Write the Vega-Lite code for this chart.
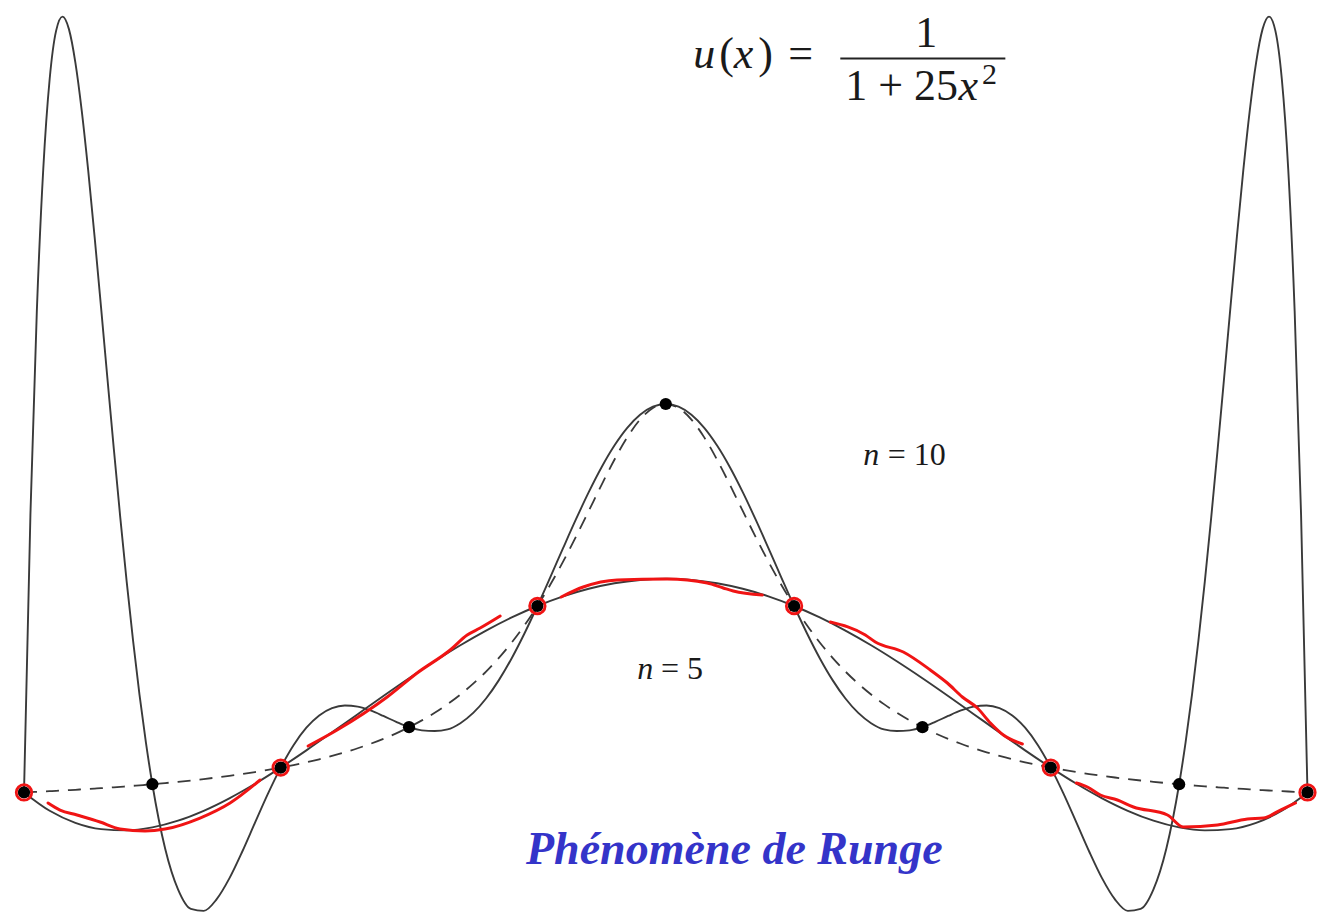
{
  "$schema": "https://vega.github.io/schema/vega-lite/v6.json",
  "width": 1332,
  "height": 913,
  "padding": 0,
  "autosize": {"type": "none"},
  "background": "white",
  "config": {"view": {"stroke": null}},
  "datasets": {
    "curves": [
      {"x": -1.00, "u": 0.0385, "p10": 0.0385},
      {"x": -0.99, "u": 0.0392, "p10": 0.7261},
      {"x": -0.98, "u": 0.0400, "p10": 1.2303},
      {"x": -0.97, "u": 0.0408, "p10": 1.5810},
      {"x": -0.96, "u": 0.0416, "p10": 1.8044},
      {"x": -0.95, "u": 0.0424, "p10": 1.9236},
      {"x": -0.94, "u": 0.0433, "p10": 1.9589},
      {"x": -0.93, "u": 0.0442, "p10": 1.9279},
      {"x": -0.92, "u": 0.0451, "p10": 1.8458},
      {"x": -0.91, "u": 0.0461, "p10": 1.7257},
      {"x": -0.90, "u": 0.0471, "p10": 1.5787},
      {"x": -0.89, "u": 0.0481, "p10": 1.4143},
      {"x": -0.88, "u": 0.0491, "p10": 1.2402},
      {"x": -0.87, "u": 0.0502, "p10": 1.0631},
      {"x": -0.86, "u": 0.0513, "p10": 0.8881},
      {"x": -0.85, "u": 0.0525, "p10": 0.7195},
      {"x": -0.84, "u": 0.0536, "p10": 0.5604},
      {"x": -0.83, "u": 0.0549, "p10": 0.4135},
      {"x": -0.82, "u": 0.0561, "p10": 0.2802},
      {"x": -0.81, "u": 0.0575, "p10": 0.1618},
      {"x": -0.80, "u": 0.0588, "p10": 0.0588},
      {"x": -0.78, "u": 0.0617, "p10": -0.1007},
      {"x": -0.76, "u": 0.0648, "p10": -0.2013},
      {"x": -0.74, "u": 0.0681, "p10": -0.2496},
      {"x": -0.72, "u": 0.0716, "p10": -0.2546},
      {"x": -0.70, "u": 0.0755, "p10": -0.2262},
      {"x": -0.68, "u": 0.0796, "p10": -0.1743},
      {"x": -0.66, "u": 0.0841, "p10": -0.1083},
      {"x": -0.64, "u": 0.0890, "p10": -0.0363},
      {"x": -0.62, "u": 0.0943, "p10": 0.0349},
      {"x": -0.60, "u": 0.1000, "p10": 0.1000},
      {"x": -0.58, "u": 0.1063, "p10": 0.1554},
      {"x": -0.56, "u": 0.1131, "p10": 0.1987},
      {"x": -0.54, "u": 0.1206, "p10": 0.2292},
      {"x": -0.52, "u": 0.1289, "p10": 0.2472},
      {"x": -0.50, "u": 0.1379, "p10": 0.2538},
      {"x": -0.48, "u": 0.1479, "p10": 0.2510},
      {"x": -0.46, "u": 0.1590, "p10": 0.2414},
      {"x": -0.44, "u": 0.1712, "p10": 0.2278},
      {"x": -0.42, "u": 0.1848, "p10": 0.2131},
      {"x": -0.40, "u": 0.2000, "p10": 0.2000},
      {"x": -0.38, "u": 0.2169, "p10": 0.1922},
      {"x": -0.36, "u": 0.2358, "p10": 0.1906},
      {"x": -0.34, "u": 0.2571, "p10": 0.1946},
      {"x": -0.32, "u": 0.2809, "p10": 0.2099},
      {"x": -0.30, "u": 0.3077, "p10": 0.2353},
      {"x": -0.28, "u": 0.3378, "p10": 0.2710},
      {"x": -0.26, "u": 0.3717, "p10": 0.3165},
      {"x": -0.24, "u": 0.4098, "p10": 0.3708},
      {"x": -0.22, "u": 0.4525, "p10": 0.4326},
      {"x": -0.20, "u": 0.5000, "p10": 0.5000},
      {"x": -0.18, "u": 0.5525, "p10": 0.5710},
      {"x": -0.16, "u": 0.6098, "p10": 0.6432},
      {"x": -0.14, "u": 0.6711, "p10": 0.7142},
      {"x": -0.12, "u": 0.7353, "p10": 0.7817},
      {"x": -0.10, "u": 0.8000, "p10": 0.8434},
      {"x": -0.08, "u": 0.8621, "p10": 0.8971},
      {"x": -0.06, "u": 0.9174, "p10": 0.9409},
      {"x": -0.04, "u": 0.9615, "p10": 0.9733},
      {"x": -0.02, "u": 0.9901, "p10": 0.9933},
      {"x": 0.00, "u": 1.0000, "p10": 1.0000},
      {"x": 0.02, "u": 0.9901, "p10": 0.9933},
      {"x": 0.04, "u": 0.9615, "p10": 0.9733},
      {"x": 0.06, "u": 0.9174, "p10": 0.9409},
      {"x": 0.08, "u": 0.8621, "p10": 0.8971},
      {"x": 0.10, "u": 0.8000, "p10": 0.8434},
      {"x": 0.12, "u": 0.7353, "p10": 0.7817},
      {"x": 0.14, "u": 0.6711, "p10": 0.7142},
      {"x": 0.16, "u": 0.6098, "p10": 0.6432},
      {"x": 0.18, "u": 0.5525, "p10": 0.5710},
      {"x": 0.20, "u": 0.5000, "p10": 0.5000},
      {"x": 0.22, "u": 0.4525, "p10": 0.4326},
      {"x": 0.24, "u": 0.4098, "p10": 0.3708},
      {"x": 0.26, "u": 0.3717, "p10": 0.3165},
      {"x": 0.28, "u": 0.3378, "p10": 0.2710},
      {"x": 0.30, "u": 0.3077, "p10": 0.2353},
      {"x": 0.32, "u": 0.2809, "p10": 0.2099},
      {"x": 0.34, "u": 0.2571, "p10": 0.1946},
      {"x": 0.36, "u": 0.2358, "p10": 0.1906},
      {"x": 0.38, "u": 0.2169, "p10": 0.1922},
      {"x": 0.40, "u": 0.2000, "p10": 0.2000},
      {"x": 0.42, "u": 0.1848, "p10": 0.2131},
      {"x": 0.44, "u": 0.1712, "p10": 0.2278},
      {"x": 0.46, "u": 0.1590, "p10": 0.2414},
      {"x": 0.48, "u": 0.1479, "p10": 0.2510},
      {"x": 0.50, "u": 0.1379, "p10": 0.2538},
      {"x": 0.52, "u": 0.1289, "p10": 0.2472},
      {"x": 0.54, "u": 0.1206, "p10": 0.2292},
      {"x": 0.56, "u": 0.1131, "p10": 0.1987},
      {"x": 0.58, "u": 0.1063, "p10": 0.1554},
      {"x": 0.60, "u": 0.1000, "p10": 0.1000},
      {"x": 0.62, "u": 0.0943, "p10": 0.0349},
      {"x": 0.64, "u": 0.0890, "p10": -0.0363},
      {"x": 0.66, "u": 0.0841, "p10": -0.1083},
      {"x": 0.68, "u": 0.0796, "p10": -0.1743},
      {"x": 0.70, "u": 0.0755, "p10": -0.2262},
      {"x": 0.72, "u": 0.0716, "p10": -0.2546},
      {"x": 0.74, "u": 0.0681, "p10": -0.2496},
      {"x": 0.76, "u": 0.0648, "p10": -0.2013},
      {"x": 0.78, "u": 0.0617, "p10": -0.1007},
      {"x": 0.80, "u": 0.0588, "p10": 0.0588},
      {"x": 0.81, "u": 0.0575, "p10": 0.1618},
      {"x": 0.82, "u": 0.0561, "p10": 0.2802},
      {"x": 0.83, "u": 0.0549, "p10": 0.4135},
      {"x": 0.84, "u": 0.0536, "p10": 0.5604},
      {"x": 0.85, "u": 0.0525, "p10": 0.7195},
      {"x": 0.86, "u": 0.0513, "p10": 0.8881},
      {"x": 0.87, "u": 0.0502, "p10": 1.0631},
      {"x": 0.88, "u": 0.0491, "p10": 1.2402},
      {"x": 0.89, "u": 0.0481, "p10": 1.4143},
      {"x": 0.90, "u": 0.0471, "p10": 1.5787},
      {"x": 0.91, "u": 0.0461, "p10": 1.7257},
      {"x": 0.92, "u": 0.0451, "p10": 1.8458},
      {"x": 0.93, "u": 0.0442, "p10": 1.9279},
      {"x": 0.94, "u": 0.0433, "p10": 1.9589},
      {"x": 0.95, "u": 0.0424, "p10": 1.9236},
      {"x": 0.96, "u": 0.0416, "p10": 1.8044},
      {"x": 0.97, "u": 0.0408, "p10": 1.5810},
      {"x": 0.98, "u": 0.0400, "p10": 1.2303},
      {"x": 0.99, "u": 0.0392, "p10": 0.7261},
      {"x": 1.00, "u": 0.0385, "p10": 0.0385}
    ],
    "p5": [
      {"x": -1.00, "y": 0.0385}, {"x": -0.96, "y": -0.0069}, {"x": -0.92, "y": -0.0366},
      {"x": -0.88, "y": -0.0522}, {"x": -0.84, "y": -0.0555}, {"x": -0.80, "y": -0.0481},
      {"x": -0.76, "y": -0.0314}, {"x": -0.72, "y": -0.0069}, {"x": -0.68, "y": 0.0240},
      {"x": -0.64, "y": 0.0600}, {"x": -0.60, "y": 0.1000}, {"x": -0.56, "y": 0.1427},
      {"x": -0.52, "y": 0.1872}, {"x": -0.48, "y": 0.2323}, {"x": -0.44, "y": 0.2773},
      {"x": -0.40, "y": 0.3212}, {"x": -0.36, "y": 0.3632}, {"x": -0.32, "y": 0.4027},
      {"x": -0.28, "y": 0.4390}, {"x": -0.24, "y": 0.4716}, {"x": -0.20, "y": 0.5000},
      {"x": -0.16, "y": 0.5238}, {"x": -0.12, "y": 0.5426}, {"x": -0.08, "y": 0.5563},
      {"x": -0.04, "y": 0.5645}, {"x": 0.00, "y": 0.5673}, {"x": 0.04, "y": 0.5645},
      {"x": 0.08, "y": 0.5563}, {"x": 0.12, "y": 0.5426}, {"x": 0.16, "y": 0.5238},
      {"x": 0.20, "y": 0.5000}, {"x": 0.24, "y": 0.4716}, {"x": 0.28, "y": 0.4390},
      {"x": 0.32, "y": 0.4027}, {"x": 0.36, "y": 0.3632}, {"x": 0.40, "y": 0.3212},
      {"x": 0.44, "y": 0.2773}, {"x": 0.48, "y": 0.2323}, {"x": 0.52, "y": 0.1872},
      {"x": 0.56, "y": 0.1427}, {"x": 0.60, "y": 0.1000}, {"x": 0.64, "y": 0.0600},
      {"x": 0.68, "y": 0.0240}, {"x": 0.72, "y": -0.0069}, {"x": 0.76, "y": -0.0314},
      {"x": 0.80, "y": -0.0481}, {"x": 0.84, "y": -0.0555}, {"x": 0.88, "y": -0.0522},
      {"x": 0.92, "y": -0.0366}, {"x": 0.96, "y": -0.0069}, {"x": 1.00, "y": 0.0385}
    ],
    "nodes10": [
      {"x": -1.0, "y": 0.0385}, {"x": -0.8, "y": 0.0588}, {"x": -0.6, "y": 0.1},
      {"x": -0.4, "y": 0.2}, {"x": -0.2, "y": 0.5}, {"x": 0.0, "y": 1.0},
      {"x": 0.2, "y": 0.5}, {"x": 0.4, "y": 0.2}, {"x": 0.6, "y": 0.1},
      {"x": 0.8, "y": 0.0588}, {"x": 1.0, "y": 0.0385}
    ],
    "nodes5": [
      {"x": -1.0, "y": 0.0385}, {"x": -0.6, "y": 0.1}, {"x": -0.2, "y": 0.5},
      {"x": 0.2, "y": 0.5}, {"x": 0.6, "y": 0.1}, {"x": 1.0, "y": 0.0385}
    ],
    "redStroke": [
      {"seg": "a", "x": -0.9626, "y": 0.0124}, {"seg": "a", "x": -0.9439, "y": -0.0050},
      {"seg": "a", "x": -0.9174, "y": -0.0173}, {"seg": "a", "x": -0.8815, "y": -0.0347},
      {"seg": "a", "x": -0.8504, "y": -0.0520}, {"seg": "a", "x": -0.8114, "y": -0.0569},
      {"seg": "a", "x": -0.7802, "y": -0.0520}, {"seg": "a", "x": -0.7257, "y": -0.0248},
      {"seg": "a", "x": -0.6789, "y": 0.0124}, {"seg": "a", "x": -0.6321, "y": 0.0693},
      {"seg": "b", "x": -0.5573, "y": 0.1535}, {"seg": "b", "x": -0.5121, "y": 0.1931},
      {"seg": "b", "x": -0.4341, "y": 0.2748}, {"seg": "b", "x": -0.3874, "y": 0.3342},
      {"seg": "b", "x": -0.3359, "y": 0.3911}, {"seg": "b", "x": -0.3094, "y": 0.4282},
      {"seg": "b", "x": -0.2892, "y": 0.4455}, {"seg": "b", "x": -0.2580, "y": 0.4752},
      {"seg": "c", "x": -0.1629, "y": 0.5223}, {"seg": "c", "x": -0.1286, "y": 0.5470},
      {"seg": "c", "x": -0.0756, "y": 0.5644}, {"seg": "c", "x": 0.0023, "y": 0.5668},
      {"seg": "c", "x": 0.0647, "y": 0.5569}, {"seg": "c", "x": 0.0896, "y": 0.5446},
      {"seg": "c", "x": 0.1052, "y": 0.5371}, {"seg": "c", "x": 0.1504, "y": 0.5272},
      {"seg": "d", "x": 0.2564, "y": 0.4604}, {"seg": "d", "x": 0.3110, "y": 0.4282},
      {"seg": "d", "x": 0.3266, "y": 0.4109}, {"seg": "d", "x": 0.3702, "y": 0.3861},
      {"seg": "d", "x": 0.4123, "y": 0.3416}, {"seg": "d", "x": 0.4388, "y": 0.3094},
      {"seg": "d", "x": 0.4622, "y": 0.2748}, {"seg": "d", "x": 0.4856, "y": 0.2475},
      {"seg": "d", "x": 0.5059, "y": 0.2104}, {"seg": "d", "x": 0.5261, "y": 0.1807},
      {"seg": "d", "x": 0.5557, "y": 0.1584},
      {"seg": "e", "x": 0.6399, "y": 0.0619}, {"seg": "e", "x": 0.6570, "y": 0.0520},
      {"seg": "e", "x": 0.6773, "y": 0.0322}, {"seg": "e", "x": 0.7038, "y": 0.0198},
      {"seg": "e", "x": 0.7288, "y": 0.0025}, {"seg": "e", "x": 0.7818, "y": -0.0173},
      {"seg": "e", "x": 0.8067, "y": -0.0470}, {"seg": "e", "x": 0.8597, "y": -0.0421},
      {"seg": "e", "x": 0.9065, "y": -0.0272}, {"seg": "e", "x": 0.9314, "y": -0.0248},
      {"seg": "e", "x": 0.9579, "y": -0.0050}, {"seg": "e", "x": 0.9813, "y": 0.0124}
    ],
    "mathItalic": [
      {"t": "u", "x": 0.0429, "y": 1.8317},
      {"t": "x", "x": 0.1060, "y": 1.8317},
      {"t": "x", "x": 0.4560, "y": 1.7525}
    ],
    "mathUpright": [
      {"t": "(", "x": 0.0834, "y": 1.8317},
      {"t": ")", "x": 0.1442, "y": 1.8317},
      {"t": "=", "x": 0.1910, "y": 1.8317},
      {"t": "1", "x": 0.3889, "y": 1.8837},
      {"t": "1 + 25", "x": 0.2798, "y": 1.7525}
    ],
    "mathSup": [
      {"t": "2", "x": 0.4930, "y": 1.7920}
    ],
    "fracBar": [
      {"x": 0.2720, "x2": 0.5292, "y": 1.8552}
    ],
    "nItalic": [
      {"t": "n", "x": 0.3079, "y": 0.8490},
      {"t": "n", "x": -0.0444, "y": 0.3193}
    ],
    "nUpright": [
      {"t": "=  10", "x": 0.3460, "y": 0.8490},
      {"t": "=  5", "x": -0.0075, "y": 0.3193}
    ],
    "title": [
      {"t": "Phénomène de Runge", "x": 0.1068, "y": -0.1386}
    ]
  },
  "encoding": {
    "x": {"field": "x", "type": "quantitative", "axis": null,
          "scale": {"domain": [-1.0374, 1.0382], "nice": false, "zero": false}}
  },
  "layer": [
    {
      "data": {"name": "curves"},
      "mark": {"type": "line", "stroke": "#3a3a3a", "strokeWidth": 1.8, "strokeDash": [13, 9], "interpolate": "monotone", "clip": true},
      "encoding": {
        "y": {"field": "u", "type": "quantitative", "axis": null,
              "scale": {"domain": [-0.2599, 2.0], "nice": false, "zero": false}}
      }
    },
    {
      "data": {"name": "curves"},
      "mark": {"type": "line", "stroke": "#3a3a3a", "strokeWidth": 1.9, "interpolate": "monotone", "clip": true},
      "encoding": {
        "y": {"field": "p10", "type": "quantitative", "axis": null,
              "scale": {"domain": [-0.2599, 2.0], "nice": false, "zero": false}}
      }
    },
    {
      "data": {"name": "p5"},
      "mark": {"type": "line", "stroke": "#3a3a3a", "strokeWidth": 1.9, "interpolate": "monotone", "clip": true},
      "encoding": {
        "y": {"field": "y", "type": "quantitative", "axis": null,
              "scale": {"domain": [-0.2599, 2.0], "nice": false, "zero": false}}
      }
    },
    {
      "data": {"name": "redStroke"},
      "mark": {"type": "line", "stroke": "#f01414", "strokeWidth": 3, "strokeCap": "round", "strokeJoin": "round", "interpolate": "monotone"},
      "encoding": {
        "detail": {"field": "seg", "type": "nominal"},
        "y": {"field": "y", "type": "quantitative", "axis": null,
              "scale": {"domain": [-0.2599, 2.0], "nice": false, "zero": false}}
      }
    },
    {
      "data": {"name": "nodes10"},
      "mark": {"type": "point", "shape": "circle", "filled": true, "fill": "#000000", "opacity": 1, "size": 150},
      "encoding": {
        "y": {"field": "y", "type": "quantitative", "axis": null,
              "scale": {"domain": [-0.2599, 2.0], "nice": false, "zero": false}}
      }
    },
    {
      "data": {"name": "nodes5"},
      "mark": {"type": "point", "shape": "circle", "filled": false, "stroke": "#f01414", "strokeWidth": 2.8, "opacity": 1, "size": 240},
      "encoding": {
        "y": {"field": "y", "type": "quantitative", "axis": null,
              "scale": {"domain": [-0.2599, 2.0], "nice": false, "zero": false}}
      }
    },
    {
      "data": {"name": "fracBar"},
      "mark": {"type": "rule", "stroke": "#222222", "strokeWidth": 2},
      "encoding": {
        "x2": {"field": "x2"},
        "y": {"field": "y", "type": "quantitative", "axis": null,
              "scale": {"domain": [-0.2599, 2.0], "nice": false, "zero": false}}
      }
    },
    {
      "data": {"name": "mathItalic"},
      "mark": {"type": "text", "align": "left", "baseline": "alphabetic", "font": "'Liberation Serif', 'Times New Roman', serif", "fontStyle": "italic", "fontSize": 44, "fill": "#1a1a1a"},
      "encoding": {
        "text": {"field": "t"},
        "y": {"field": "y", "type": "quantitative", "axis": null,
              "scale": {"domain": [-0.2599, 2.0], "nice": false, "zero": false}}
      }
    },
    {
      "data": {"name": "mathUpright"},
      "mark": {"type": "text", "align": "left", "baseline": "alphabetic", "font": "'Liberation Serif', 'Times New Roman', serif", "fontSize": 44, "fill": "#1a1a1a"},
      "encoding": {
        "text": {"field": "t"},
        "y": {"field": "y", "type": "quantitative", "axis": null,
              "scale": {"domain": [-0.2599, 2.0], "nice": false, "zero": false}}
      }
    },
    {
      "data": {"name": "mathSup"},
      "mark": {"type": "text", "align": "left", "baseline": "alphabetic", "font": "'Liberation Serif', 'Times New Roman', serif", "fontSize": 30, "fill": "#1a1a1a"},
      "encoding": {
        "text": {"field": "t"},
        "y": {"field": "y", "type": "quantitative", "axis": null,
              "scale": {"domain": [-0.2599, 2.0], "nice": false, "zero": false}}
      }
    },
    {
      "data": {"name": "nItalic"},
      "mark": {"type": "text", "align": "left", "baseline": "alphabetic", "font": "'Liberation Serif', 'Times New Roman', serif", "fontStyle": "italic", "fontSize": 32, "fill": "#1a1a1a"},
      "encoding": {
        "text": {"field": "t"},
        "y": {"field": "y", "type": "quantitative", "axis": null,
              "scale": {"domain": [-0.2599, 2.0], "nice": false, "zero": false}}
      }
    },
    {
      "data": {"name": "nUpright"},
      "mark": {"type": "text", "align": "left", "baseline": "alphabetic", "font": "'Liberation Serif', 'Times New Roman', serif", "fontSize": 32, "fill": "#1a1a1a"},
      "encoding": {
        "text": {"field": "t"},
        "y": {"field": "y", "type": "quantitative", "axis": null,
              "scale": {"domain": [-0.2599, 2.0], "nice": false, "zero": false}}
      }
    },
    {
      "data": {"name": "title"},
      "mark": {"type": "text", "align": "center", "baseline": "alphabetic", "font": "'Liberation Serif', 'Times New Roman', serif", "fontStyle": "italic", "fontWeight": "bold", "fontSize": 46, "fill": "#3434c9"},
      "encoding": {
        "text": {"field": "t"},
        "y": {"field": "y", "type": "quantitative", "axis": null,
              "scale": {"domain": [-0.2599, 2.0], "nice": false, "zero": false}}
      }
    }
  ]
}
